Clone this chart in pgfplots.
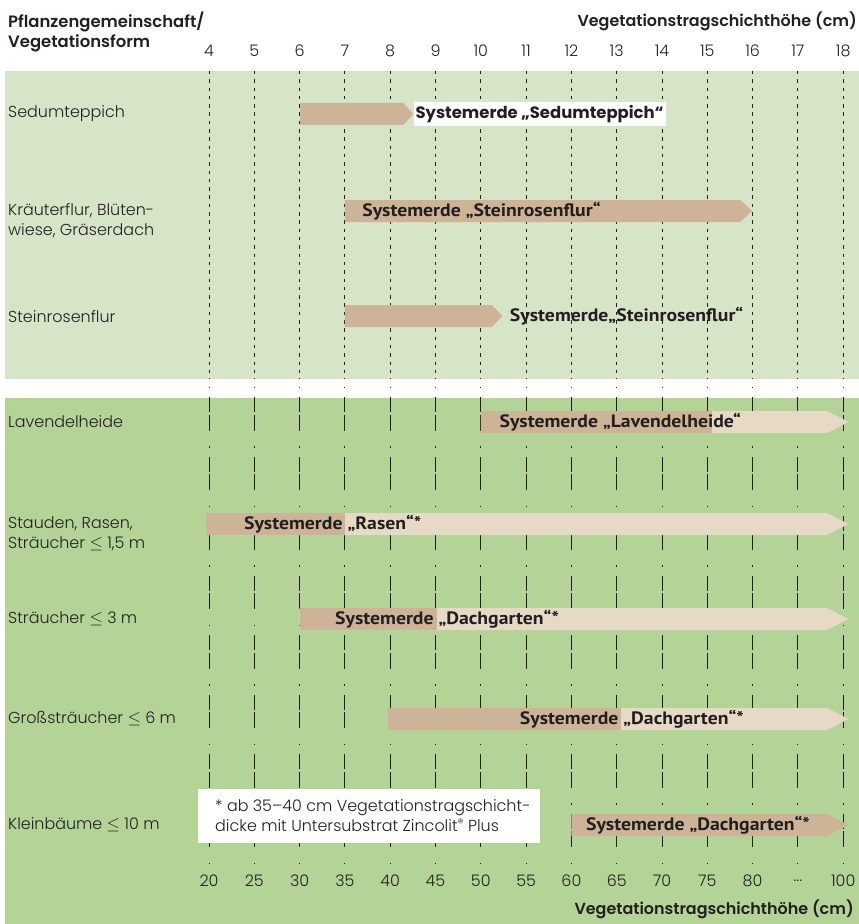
\documentclass[border=0pt]{standalone}
\usepackage{pgfplots}
\pgfplotsset{compat=1.18}
\usepackage{fontspec}
\setmainfont{Poppins}[UprightFont=* Light, BoldFont=* SemiBold]
\newfontfamily\condb{PT Sans}[FakeStretch=1.1]
\newfontfamily\heavy{Poppins}[UprightFont=* Bold]

\definecolor{lgreen}{HTML}{D6E4C8}
\definecolor{dgreen}{HTML}{B3D397}
\definecolor{tanD}{HTML}{CDB498}
\definecolor{tanL}{HTML}{E6D9C6}
\definecolor{ink}{HTML}{231F20}

\newcommand{\rowf}{\fontsize{16}{20.5}\selectfont}
\newcommand{\barf}{\condb\bfseries\fontsize{18}{18}\selectfont}

\pgfplotsset{
  panel/.style={
    width=859bp, height=924bp, scale only axis,
    xmin=-0.6137, xmax=18.349, ymin=0, ymax=924, y dir=reverse,
    axis line style={draw=none}, tick style={draw=none},
    clip=false, no markers,
  },
}

\begin{document}
\begin{tikzpicture}
\useasboundingbox (0,0) rectangle (859bp,924bp);
\begin{axis}[panel, axis on top,
  xtick={4,...,18},
  xticklabels={20,25,30,35,40,45,50,55,60,65,70,75,80,{.{}.{}.},100},
  xticklabel style={anchor=center, yshift=43bp, font=\rowf, text=ink},
  ytick={114,211,231,317,422,523.5,544,619,719,825},
  yticklabels={Sedumteppich,{Kräuterflur, Blüten-},{wiese, Gräserdach},Steinrosenflur,
    Lavendelheide,{Stauden, Rasen,},{Sträucher $\leq$ 1,5 m},{Sträucher $\leq$ 3 m},
    {Großsträucher $\leq$ 6 m},{Kleinbäume $\leq$ 10 m}},
  yticklabel style={anchor=west, xshift=8bp, inner xsep=0pt, inner ysep=1pt, font=\rowf, text=ink},
]
% panels
\fill[lgreen] (axis cs:-0.503,71) rectangle (axis cs:18.349,379);
\fill[dgreen] (axis cs:-0.503,398) rectangle (axis cs:18.349,924);

% grid
\pgfplotsinvokeforeach{4,...,18}{
  \draw[ink, line width=0.9bp, dash pattern=on 3.5bp off 4.8bp]
    (axis cs:#1,71) -- (axis cs:#1,379);
  \draw[ink, line width=1bp, dash pattern=on 1.5bp off 9bp on 15bp off 2.5bp on 16bp off 15.5bp]
    (axis cs:#1,386.5) -- (axis cs:#1,866);
}

% light part of the arrows (bottom panel)
\addplot[fill=tanL, draw=none] coordinates {(10,411) (17.64,411) (18.12,422) (17.64,433) (10,433)} -- cycle;
\addplot[fill=tanL, draw=none] coordinates {(3.93,513) (17.64,513) (18.12,524) (17.64,535) (3.93,535)} -- cycle;
\addplot[fill=tanL, draw=none] coordinates {(6.0,608) (17.64,608) (18.12,619) (17.64,630) (6.0,630)} -- cycle;
\addplot[fill=tanL, draw=none] coordinates {(7.96,708) (17.64,708) (18.12,719) (17.64,730) (7.96,730)} -- cycle;

% top panel arrows
\addplot[fill=tanD, draw=none] coordinates {(6.01,103) (8.29,103) (8.51,114) (8.29,125) (6.01,125)} -- cycle;
\addplot[fill=tanD, draw=none] coordinates {(7,200) (15.73,200) (15.99,211) (15.73,222) (7,222)} -- cycle;
\addplot[fill=tanD, draw=none] coordinates {(7,305) (10.24,305) (10.48,316) (10.24,327) (7,327)} -- cycle;

% dark part (bottom panel)
\addplot[fill=tanD, draw=none] coordinates {(10,411) (15.1,411) (15.1,433) (10,433)} -- cycle;
\addplot[fill=tanD, draw=none] coordinates {(3.93,513) (7.0,513) (7.0,535) (3.93,535)} -- cycle;
\addplot[fill=tanD, draw=none] coordinates {(6.0,608) (9.03,608) (9.03,630) (6.0,630)} -- cycle;
\addplot[fill=tanD, draw=none] coordinates {(7.96,708) (13.1,708) (13.1,730) (7.96,730)} -- cycle;
\addplot[fill=tanD, draw=none] coordinates {(12.0,814) (17.64,814) (18.12,825) (17.64,836) (12.0,836)} -- cycle;

% bar labels
\node[anchor=west, fill=white, inner xsep=2bp, minimum height=24bp, text=ink,
  font=\heavy\fontsize{16.5}{16.5}\selectfont] at (axis cs:8.51,114) {Systemerde „Sedumteppich“};
\node[anchor=west, inner sep=0, text=ink, font=\barf] at (axis cs:7.38,211) {Systemerde „Steinrosenflur“};
\node[anchor=west, inner sep=0, text=ink, font=\barf] at (axis cs:10.64,316) {Systemerde„Steinrosenflur“};
\node[anchor=west, inner sep=0, text=ink, font=\barf] at (axis cs:10.41,422) {Systemerde „Lavendelheide“};
\node[anchor=west, inner sep=0, text=ink, font=\barf] at (axis cs:4.77,524) {Systemerde „Rasen“*};
\node[anchor=west, inner sep=0, text=ink, font=\barf] at (axis cs:6.78,619) {Systemerde „Dachgarten“*};
\node[anchor=west, inner sep=0, text=ink, font=\barf] at (axis cs:10.86,719) {Systemerde „Dachgarten“*};
\node[anchor=west, inner sep=0, text=ink, font=\barf] at (axis cs:12.32,825) {Systemerde „Dachgarten“*};

% footnote
\fill[white] (axis cs:3.757,789) rectangle (axis cs:11.307,843);
\node[anchor=west, inner sep=0, align=left, text=ink, font=\fontsize{16}{20}\selectfont] at (axis cs:4.132,816)
  {* ab 35–40 cm Vegetationstragschicht-\\dicke mit Untersubstrat Zincolit\raisebox{0.55ex}{\fontsize{12}{12}\selectfont ®} Plus};

% headers
\node[anchor=north west, inner sep=0, align=left, text=ink, font=\bfseries\fontsize{16.5}{19.5}\selectfont]
  at (axis cs:-0.437,12) {Pflanzengemeinschaft/\\Vegetationsform};
\node[anchor=east, inner sep=0, text=ink, font=\bfseries\fontsize{16}{16}\selectfont]
  at (axis cs:18.305,21) {Vegetationstragschichthöhe (cm)};
\node[anchor=east, inner sep=0, text=ink, font=\bfseries\fontsize{16}{16}\selectfont]
  at (axis cs:18.238,909) {Vegetationstragschichthöhe (cm)};
\end{axis}
\begin{axis}[panel,
  xtick={4,...,18},
  xticklabels={4,5,6,7,8,9,10,11,12,13,14,15,16,17,18},
  xticklabel pos=upper,
  xticklabel style={anchor=center, yshift=-50.5bp, font=\rowf, text=ink},
  ytick=\empty,
]
\end{axis}
\end{tikzpicture}
\end{document}
